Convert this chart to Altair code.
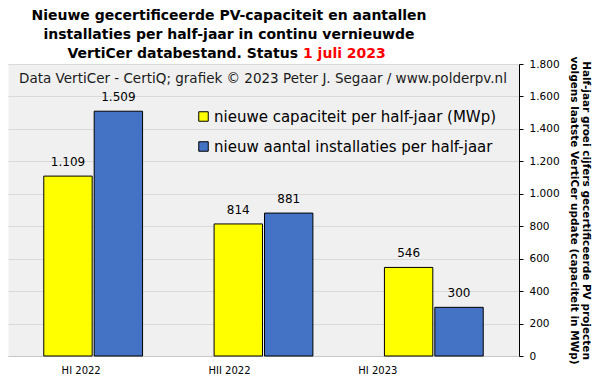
import altair as alt
import pandas as pd

# ---- data ----
periods = ["HI 2022", "HII 2022", "HI 2023"]
capacity_mwp = [1109, 814, 546]
installations = [1509, 881, 300]
series_names = [
    "nieuwe capaciteit per half-jaar (MWp)",
    "nieuw aantal installaties per half-jaar",
]
series_colors = ["#ffff00", "#4472c4"]
y_ticks = [0, 200, 400, 600, 800, 1000, 1200, 1400, 1600, 1800]

title_line1 = "Nieuwe gecertificeerde PV-capaciteit en aantallen"
title_line2 = "installaties per half-jaar in continu vernieuwde"
title_line3 = "VertiCer databestand. Status"
title_date = "1 juli 2023"
credit = "Data VertiCer - CertiQ; grafiek © 2023 Peter J. Segaar / www.polderpv.nl"
y_title = [
    "Half-jaar groei cijfers gecertificeerde PV projecten",
    "volgens laatste VertiCer update (capaciteit in MWp)",
]

rows = []
for p, c, n in zip(periods, capacity_mwp, installations):
    rows.append({"period": p, "series": series_names[0], "value": c})
    rows.append({"period": p, "series": series_names[1], "value": n})
df = pd.DataFrame(rows)
df["label"] = df["value"].map(lambda v: f"{v:,}".replace(",", "."))

FONT = "DejaVu Sans"

x_enc = alt.X(
    "period:N",
    sort=periods,
    scale=alt.Scale(paddingInner=0.42, paddingOuter=0.21),
    axis=alt.Axis(
        title=None, labelAngle=0, ticks=False, domainColor="#c8c8c8",
        labelFontSize=10, labelColor="#000000", labelPadding=9, grid=False,
        labelOffset={"expr": "datum.value == 'HI 2022' ? -12 : (datum.value == 'HII 2022' ? -34 : -56)"},
    ),
)
xoff_enc = alt.XOffset("series:N", sort=series_names,
                       scale=alt.Scale(paddingInner=0.04))
y_enc = alt.Y(
    "value:Q",
    scale=alt.Scale(domain=[0, 1800], nice=False),
    axis=alt.Axis(
        orient="right", values=y_ticks,
        labelExpr="replace(format(datum.value, ','), ',', '.')",
        title=y_title, grid=True, gridColor="#d9d9d9",
        domainColor="#000000", tickColor="#000000", tickSize=4,
        labelPadding=6, labelFontSize=10.5, labelColor="#000000",
        titleFontWeight="bold", titleFontSize=10.5, titleColor="#000000",
        titlePadding=9, titleLineHeight=12.5,
    ),
)

bars = alt.Chart(df).mark_bar(stroke="#000000", strokeWidth=1).encode(
    x=x_enc,
    xOffset=xoff_enc,
    y=y_enc,
    color=alt.Color(
        "series:N", sort=series_names,
        scale=alt.Scale(domain=series_names, range=series_colors),
        legend=alt.Legend(
            title=None, orient="none", legendX=188, legendY=45,
            symbolType="square", symbolSize=90, symbolStrokeColor="#000000",
            symbolStrokeWidth=1, symbolOpacity=1, labelFontSize=15,
            labelColor="#000000", rowPadding=14, labelLimit=400, labelOffset=3,
        ),
    ),
)

labels = alt.Chart(df).mark_text(
    baseline="bottom", dy=-7, fontSize=12, color="#000000", font=FONT
).encode(x=x_enc, xOffset=xoff_enc, y=y_enc, text="label:N")

one = pd.DataFrame({"k": [0]})


def txt(s, x, y, color="#000000", size=14, weight="bold", align="center", baseline="top"):
    return alt.Chart(one).mark_text(
        fontSize=size, fontWeight=weight, color=color, align=align,
        baseline=baseline, font=FONT,
    ).encode(x=alt.value(x), y=alt.value(y), text=alt.value(s))


t1 = txt(title_line1, 221, -55)
t2 = txt(title_line2, 221, -36)
t3 = txt(title_line3, 290, -17, align="right")
t4 = txt(title_date, 295, -17, color="#ff0000", align="left")
cr = txt(credit, 255, 15, size=13.5, weight="normal", baseline="middle", color="#1a1a1a")

chart = alt.layer(bars, labels, t1, t2, t3, t4, cr).properties(
    width=511, height=292,
    padding={"left": 0, "top": 1, "right": 2, "bottom": 0},
).configure(font=FONT, background="#ffffff").configure_view(
    fill="#f0f0f0", stroke="transparent"
).configure_axis(labelFont=FONT, titleFont=FONT)

chart.save("out.html", embed_options={"renderer": "svg", "actions": False})
